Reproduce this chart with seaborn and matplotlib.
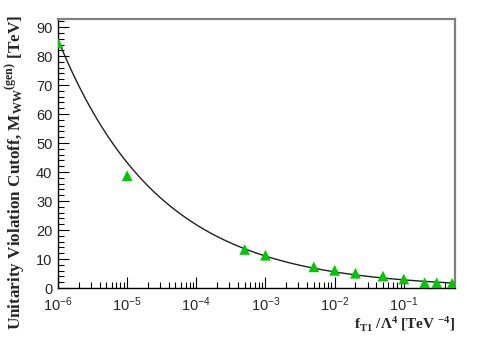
import numpy as np
import pandas as pd
import seaborn as sns
import matplotlib
matplotlib.use("Agg")
import matplotlib.pyplot as plt
from matplotlib.ticker import LogLocator, MultipleLocator, LogFormatterMathtext

# Data
f_t1 = [1e-6, 1e-5, 5e-4, 1e-3, 5e-3, 1e-2, 2e-2, 5e-2, 1e-1, 2e-1, 3e-1, 5e-1]
cutoff = [84.5, 38.7, 13.3, 11.3, 7.3, 6.1, 5.1, 4.1, 3.1, 1.8, 1.8, 1.6]
y_ticks = [0, 10, 20, 30, 40, 50, 60, 70, 80, 90]

sns.set_style("ticks")
plt.rcParams["font.family"] = ["Liberation Sans", "DejaVu Sans"]
plt.rcParams["mathtext.fontset"] = "custom"
plt.rcParams["mathtext.rm"] = "Liberation Sans"
plt.rcParams["mathtext.it"] = "Liberation Sans:italic"
plt.rcParams["mathtext.bf"] = "Liberation Serif:bold"

df = pd.DataFrame({"f": f_t1, "cut": cutoff})

# power-law fit in log-log space (drawn as the fitted curve)
b, loga = np.polyfit(np.log(df["f"]), np.log(df["cut"]), 1)
xs = np.logspace(-6, np.log10(0.55), 300)
fit = pd.DataFrame({"f": xs, "cut": np.exp(loga) * xs ** b})

fig = plt.figure(figsize=(4.98, 3.38), dpi=100)
ax = fig.add_axes([58 / 498, 50 / 338, (455 - 58) / 498, (288 - 19) / 338])

sns.lineplot(data=fit, x="f", y="cut", ax=ax, color="#202020", linewidth=1.0)
sns.scatterplot(data=df, x="f", y="cut", ax=ax, marker="^", color="#00c800",
                s=60, edgecolor="none", zorder=5)

ax.set_xscale("log")
ax.set_xlim(1e-6, 0.55)
ax.set_ylim(0, 92.8)
ax.set_yticks(y_ticks)
ax.yaxis.set_minor_locator(MultipleLocator(2))
ax.xaxis.set_major_locator(LogLocator(base=10, numticks=20))
ax.xaxis.set_minor_locator(LogLocator(base=10, subs=np.arange(2, 10), numticks=20))
ax.xaxis.set_major_formatter(LogFormatterMathtext())

ax.tick_params(which="both", direction="in", top=False, right=False, color="black")
ax.tick_params(which="major", length=8, width=0.8, labelsize=10.5)
ax.tick_params(which="minor", length=4, width=0.8)
ax.tick_params(axis="y", which="major", pad=4)
ax.tick_params(axis="x", which="major", pad=5.5)

for s in ["left", "bottom"]:
    ax.spines[s].set_color("black")
    ax.spines[s].set_linewidth(1.0)
for s in ["top", "right"]:
    ax.spines[s].set_visible(True)
    ax.spines[s].set_color("#808080")
    ax.spines[s].set_linewidth(1.6)

ax.set_xlabel("")
ax.set_ylabel("")
fig.text(455 / 498, 1 - 324 / 338,
         r"f$_{\mathbf{T1}}$ /Λ$^{\mathbf{4}}$ [TeV $^{\mathbf{-4}}$]",
         ha="right", va="center", fontsize=11, fontweight="bold",
         family="Liberation Serif")
fig.text(15 / 498, 1 - 15 / 338,
         r"Unitarity Violation Cutoff, M$_{\mathbf{WW}}$$^{\mathbf{(gen)}}$ [TeV]",
         ha="center", va="top", rotation=90, fontsize=12.3, fontweight="bold",
         family="Liberation Serif")

fig.savefig("out.png", dpi=100)
